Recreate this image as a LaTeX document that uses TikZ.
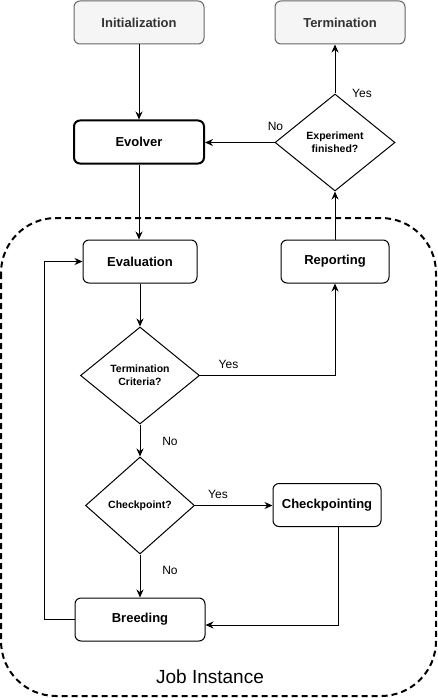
\documentclass[tikz,border=0pt]{standalone}
\usepackage{fontspec}
\setmainfont{Liberation Sans}
\usepackage{tikz}
\usetikzlibrary{arrows.meta,calc,positioning,shapes.geometric}
\tikzset{
  box/.style={draw, rounded corners=6pt, line width=1pt, fill=white, minimum height=43pt, inner sep=0pt, font=\bfseries\fontsize{13}{15}\selectfont},
  endbox/.style={box, draw=black!60, fill=black!4, text=black!80},  % start / stop
  mainbox/.style={box, line width=2pt},                            % Evolver
  decision/.style={diamond, draw, line width=1pt, fill=white, align=center, inner sep=0pt, font=\bfseries\fontsize{10.5}{13}\selectfont},
  flow/.style={-{Stealth[length=8pt,width=7pt]}, line width=1pt},
  lbl/.style={font=\fontsize{12}{14}\selectfont},
  jobframe/.style={draw, line width=2pt, dash pattern=on 6pt off 4pt, rounded corners=55pt}
}

\begin{document}
\begin{tikzpicture}[x=1pt,y=-1pt]
  \useasboundingbox (0,0) rectangle (437,698);
  \draw[jobframe] (1,218) rectangle (436,696);
  \node[font=\fontsize{19}{22}\selectfont] (job) at (210,677) {Job Instance};

  \node[endbox, minimum width=130pt] (init) at (139,22.5) {Initialization};
  \node[endbox, minimum width=130pt] (term) at (340,22.5) {Termination};
  \node[mainbox, minimum width=130pt] (evolver) at (139,142) {Evolver};
  \node[decision, minimum width=120pt, minimum height=97pt] (expfin) at (335,142.5) {Experiment\\finished?};
  \node[box, minimum width=114pt] (eval) at (140,261.5) {Evaluation};
  \node[box, minimum width=108pt] (report) at (335,261.5) {Reporting};
  \node[decision, minimum width=119pt, minimum height=97pt] (termcrit) at (140,375.5) {Termination\\Criteria?};
  \node[decision, minimum width=109pt, minimum height=97pt] (ckpt) at (140,505.5) {Checkpoint?};
  \node[box, minimum width=108pt] (ckpting) at (327,505) {Checkpointing};
  \node[box, minimum width=130pt] (breed) at (140,619.5) {Breeding};

  % connectors
  \draw[flow] (init) -- (evolver);
  \draw[flow] (expfin.north) -- (expfin.north |- term.south);
  \draw[flow] (expfin.west) -- (expfin.west -| evolver.east);
  \draw[flow] (evolver.south) -- (evolver.south |- eval.north);
  \draw[flow] (report) -- (expfin);
  \draw[flow] (eval) -- (termcrit);
  \draw[flow] (termcrit.east) -| (report.south);
  \draw[flow] (termcrit) -- (ckpt);
  \draw[flow] (ckpt.east) -- (ckpt.east -| ckpting.west);
  \draw[flow] (ckpt) -- (breed);
  \draw[flow] ([xshift=11pt]ckpting.south) |- ([yshift=-5.5pt]breed.east);
  \draw[flow] (breed.west) -- ++(-30,0) |- (eval.west);

  % branch labels
  \node[lbl] (yesA) at (362,93.5) {Yes};
  \node[lbl] (noA) at (275.5,126) {No};
  \node[lbl] (yesB) at (228.5,364) {Yes};
  \node[lbl] (noB) at (170,441) {No};
  \node[lbl] (yesC) at (218,494) {Yes};
  \node[lbl] (noC) at (170,570) {No};
\end{tikzpicture}
\end{document}
